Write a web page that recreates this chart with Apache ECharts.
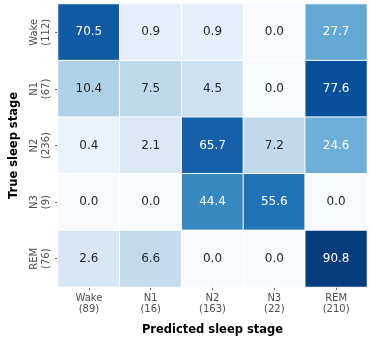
<!DOCTYPE html>
<html><head><meta charset="utf-8">
<script src="https://cdn.jsdelivr.net/npm/echarts@6/dist/echarts.min.js"></script>
<style>html,body{margin:0;padding:0;background:#fff}#c{width:371px;height:341px}</style>
</head><body><div id="c"></div>
<script>
const stages = ['Wake', 'N1', 'N2', 'N3', 'REM'];
const trueCounts = [112, 67, 236, 9, 76];
const predCounts = [89, 16, 163, 22, 210];
const rowWake = [70.5, 0.9, 0.9, 0.0, 27.7];
const rowN1 = [10.4, 7.5, 4.5, 0.0, 77.6];
const rowN2 = [0.4, 2.1, 65.7, 7.2, 24.6];
const rowN3 = [0.0, 0.0, 44.4, 55.6, 0.0];
const rowREM = [2.6, 6.6, 0.0, 0.0, 90.8];
const matrix = [rowWake, rowN1, rowN2, rowN3, rowREM];

const bluesStops = ['#f7fbff','#deebf7','#c6dbef','#9ecae1','#6baed6','#4292c6','#2171b5','#08519c','#08306b'];
function hex2rgb(h){return [parseInt(h.slice(1,3),16),parseInt(h.slice(3,5),16),parseInt(h.slice(5,7),16)];}
function blues(t){
  t = Math.max(0, Math.min(1, t));
  const p = t * (bluesStops.length - 1);
  const i = Math.min(Math.floor(p), bluesStops.length - 2);
  const f = p - i;
  const a = hex2rgb(bluesStops[i]), b = hex2rgb(bluesStops[i+1]);
  const c = a.map((v,k)=>Math.round(v + (b[k]-v)*f));
  return 'rgb(' + c.join(',') + ')';
}
const data = [];
matrix.forEach((row, r) => row.forEach((v, c) => {
  data.push({
    value: [c, r, v],
    itemStyle: { color: blues(Math.sqrt(v / 100)) },
    label: { color: v > 20 ? '#ffffff' : '#262626' }
  });
}));

const chart = echarts.init(document.getElementById('c'), null, {renderer: 'canvas'});
const font = 'DejaVu Sans';
chart.setOption({
  animation: false,
  grid: { left: 50, top: 4, right: 4, bottom: 47 },
  xAxis: {
    type: 'category',
    data: stages,
    name: 'Predicted sleep stage',
    nameLocation: 'middle',
    nameGap: 37,
    nameTextStyle: { fontFamily: font, fontWeight: 'bold', fontSize: 11.5, color: '#000' },
    axisLine: { show: false },
    axisTick: { show: true, alignWithLabel: true, length: 3, lineStyle: { color: '#666' } },
    axisLabel: {
      margin: 6,
      fontFamily: font, fontSize: 10, color: '#4d4d4d', lineHeight: 11,
      formatter: (v, i) => v + '\n(' + predCounts[i] + ')'
    },
    splitLine: { show: false }
  },
  yAxis: {
    type: 'category',
    data: stages,
    inverse: true,
    name: 'True sleep stage',
    nameLocation: 'middle',
    nameGap: 38,
    nameTextStyle: { fontFamily: font, fontWeight: 'bold', fontSize: 11.5, color: '#000' },
    axisLine: { show: false },
    axisTick: { show: true, alignWithLabel: true, length: 3, lineStyle: { color: '#666' } },
    axisLabel: {
      rotate: 90,
      margin: 6,
      fontFamily: font, fontSize: 10, color: '#4d4d4d', lineHeight: 12,
      formatter: (v, i) => v + '\n(' + trueCounts[i] + ')'
    },
    splitLine: { show: false }
  },
  series: [{
    type: 'heatmap',
    data: data,
    label: {
      show: true,
      fontFamily: font, fontSize: 12,
      formatter: p => p.value[2].toFixed(1)
    },
    itemStyle: { borderColor: '#ffffff', borderWidth: 1 },
    emphasis: { disabled: true }
  }]
});
</script></body></html>
